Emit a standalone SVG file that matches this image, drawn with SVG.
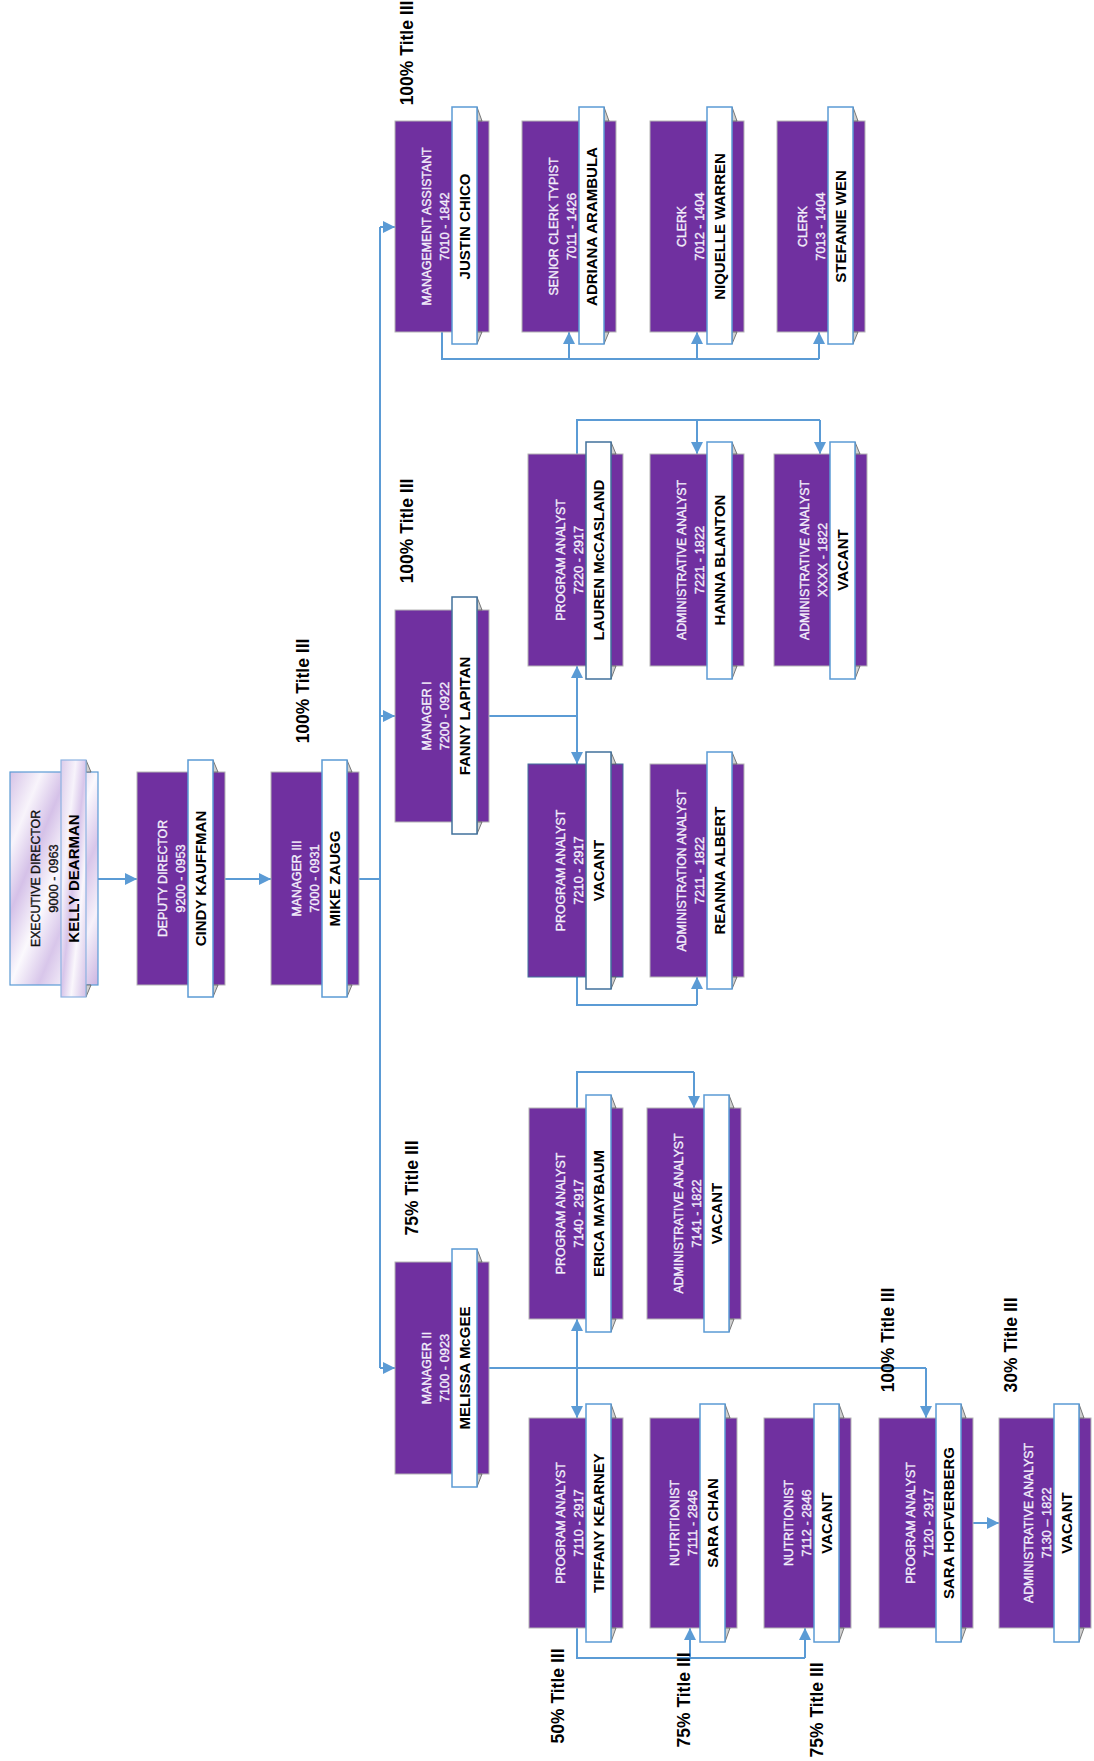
<svg xmlns="http://www.w3.org/2000/svg" width="1094" height="1761" viewBox="0 0 1094 1761">
<style>
.box{fill:#7030a0;stroke:#b4b4b4;stroke-width:1}
.strip{fill:#ffffff;stroke:#5b9bd5;stroke-width:1.5}
.bev{fill:#cfcfcf;stroke:#5a5a5a;stroke-width:0.8}
.t{font-family:"Liberation Sans",Arial,sans-serif;font-size:12.3px;fill:#f3eefb;stroke:#f3eefb;stroke-width:0.35;text-anchor:middle}
.c{font-family:"Liberation Sans",Arial,sans-serif;font-size:12.8px;fill:#f3eefb;stroke:#f3eefb;stroke-width:0.35;text-anchor:middle}
.n{font-family:"Liberation Sans",Arial,sans-serif;font-size:15px;font-weight:bold;fill:#000000;text-anchor:middle}
.dk{fill:#111111;stroke:#111111}
.lbl{font-family:"Liberation Sans",Arial,sans-serif;font-size:17.5px;font-weight:bold;fill:#000000;text-anchor:middle}
.con{fill:none;stroke:#5b9bd5;stroke-width:2}
.arr{fill:none;stroke:#5b9bd5;stroke-width:2;marker-end:url(#ah)}
</style>
<defs>
<marker id="ah" markerUnits="userSpaceOnUse" markerWidth="12" markerHeight="12" refX="12" refY="6" orient="auto">
<path d="M0,0 L12,6 L0,12 z" fill="#5b9bd5"/>
</marker>
<linearGradient id="gExec" x1="0" y1="0" x2="1" y2="1">
<stop offset="0" stop-color="#d6c3e7"/>
<stop offset="0.18" stop-color="#f8f4fb"/>
<stop offset="0.33" stop-color="#d5c1e8"/>
<stop offset="0.5" stop-color="#fbf9fd"/>
<stop offset="0.66" stop-color="#d8c6ea"/>
<stop offset="0.82" stop-color="#f6f1fa"/>
<stop offset="1" stop-color="#cbb4e1"/>
</linearGradient>
<linearGradient id="gStrip" x1="0" y1="0" x2="1" y2="1">
<stop offset="0" stop-color="#dccbea"/>
<stop offset="0.3" stop-color="#f7f3fb"/>
<stop offset="0.5" stop-color="#d8c5ea"/>
<stop offset="0.7" stop-color="#faf7fc"/>
<stop offset="1" stop-color="#d3bfe6"/>
</linearGradient>
</defs>
<rect width="1094" height="1761" fill="#ffffff"/>

<g id="connectors">
<path class="arr" d="M98,879 H137"/>
<path class="arr" d="M225,879 H271"/>
<path class="con" d="M359,879 H380"/>
<path class="con" d="M380,227 V1368"/>
<path class="arr" d="M380,227 H395"/>
<path class="arr" d="M380,716 H395"/>
<path class="arr" d="M380,1368 H395"/>
<path class="con" d="M442,332 V359 H819"/>
<path class="arr" d="M569,359 V332"/>
<path class="arr" d="M697,359 V332"/>
<path class="arr" d="M819,359 V332"/>
<path class="con" d="M489,716 H577"/>
<path class="arr" d="M577,716 V666"/>
<path class="arr" d="M577,716 V764"/>
<path class="con" d="M577,454 V420 H820"/>
<path class="arr" d="M697,420 V454"/>
<path class="arr" d="M820,420 V454"/>
<path class="con" d="M577,977 V1005 H697"/>
<path class="arr" d="M697,1005 V977"/>
<path class="con" d="M577,1108 V1072 H694"/>
<path class="arr" d="M694,1072 V1108"/>
<path class="con" d="M489,1368 H926"/>
<path class="arr" d="M926,1368 V1418"/>
<path class="arr" d="M577,1368 V1319"/>
<path class="arr" d="M577,1368 V1418"/>
<path class="con" d="M577,1628 V1658 H805"/>
<path class="arr" d="M690,1658 V1628"/>
<path class="arr" d="M805,1658 V1628"/>
<path class="arr" d="M973,1523 H999"/>
</g>

<g id="exec">
<rect x="10" y="772" width="88" height="213" fill="url(#gExec)" stroke="#5b9bd5" stroke-width="1.2"/>
<polygon class="bev" points="86,760 91,772 86,772"/>
<polygon class="bev" points="86,985 91,985 86,997"/>
<rect x="61" y="760" width="25" height="237" fill="url(#gStrip)" stroke="#8db3e2" stroke-width="1.2"/>
<text class="t dk" transform="translate(40,878.5) rotate(-90)">EXECUTIVE DIRECTOR</text>
<text class="c dk" transform="translate(58,878.5) rotate(-90)">9000 - 0963</text>
<text class="n" transform="translate(79,878.5) rotate(-90)">KELLY DEARMAN</text>
</g>

<g id="deputy">
<rect class="box" x="137" y="772" width="88" height="213"/>
<polygon class="bev" points="213,760 218,772 213,772"/>
<polygon class="bev" points="213,985 218,985 213,997"/>
<rect class="strip" x="188" y="760" width="25" height="237"/>
<text class="t" transform="translate(167,878.5) rotate(-90)">DEPUTY DIRECTOR</text>
<text class="c" transform="translate(185,878.5) rotate(-90)">9200 - 0953</text>
<text class="n" transform="translate(206,878.5) rotate(-90)">CINDY KAUFFMAN</text>
</g>

<g id="manager3">
<rect class="box" x="271" y="772" width="88" height="213"/>
<polygon class="bev" points="347,760 352,772 347,772"/>
<polygon class="bev" points="347,985 352,985 347,997"/>
<rect class="strip" x="322" y="760" width="25" height="237"/>
<text class="t" transform="translate(301,878.5) rotate(-90)">MANAGER III</text>
<text class="c" transform="translate(319,878.5) rotate(-90)">7000 - 0931</text>
<text class="n" transform="translate(340,878.5) rotate(-90)">MIKE ZAUGG</text>
</g>

<g id="mgmt-assistant">
<rect class="box" x="395" y="121" width="94" height="211"/>
<polygon class="bev" points="477,107 482,121 477,121"/>
<polygon class="bev" points="477,332 482,332 477,344"/>
<rect class="strip" x="452" y="107" width="25" height="237"/>
<text class="t" transform="translate(431,226.5) rotate(-90)">MANAGEMENT ASSISTANT</text>
<text class="c" transform="translate(449,226.5) rotate(-90)">7010 - 1842</text>
<text class="n" transform="translate(470,226.5) rotate(-90)">JUSTIN CHICO</text>
</g>

<g id="senior-clerk">
<rect class="box" x="522" y="121" width="94" height="211"/>
<polygon class="bev" points="604,107 609,121 604,121"/>
<polygon class="bev" points="604,332 609,332 604,344"/>
<rect class="strip" x="579" y="107" width="25" height="237"/>
<text class="t" transform="translate(558,226.5) rotate(-90)">SENIOR CLERK TYPIST</text>
<text class="c" transform="translate(576,226.5) rotate(-90)">7011 - 1426</text>
<text class="n" transform="translate(597,226.5) rotate(-90)">ADRIANA ARAMBULA</text>
</g>

<g id="clerk-7012">
<rect class="box" x="650" y="121" width="94" height="211"/>
<polygon class="bev" points="732,107 737,121 732,121"/>
<polygon class="bev" points="732,332 737,332 732,344"/>
<rect class="strip" x="707" y="107" width="25" height="237"/>
<text class="t" transform="translate(686,226.5) rotate(-90)">CLERK</text>
<text class="c" transform="translate(704,226.5) rotate(-90)">7012 - 1404</text>
<text class="n" transform="translate(725,226.5) rotate(-90)">NIQUELLE WARREN</text>
</g>

<g id="clerk-7013">
<rect class="box" x="777" y="121" width="88" height="211"/>
<polygon class="bev" points="853,107 858,121 853,121"/>
<polygon class="bev" points="853,332 858,332 853,344"/>
<rect class="strip" x="828" y="107" width="25" height="237"/>
<text class="t" transform="translate(807,226.5) rotate(-90)">CLERK</text>
<text class="c" transform="translate(825,226.5) rotate(-90)">7013 - 1404</text>
<text class="n" transform="translate(846,226.5) rotate(-90)">STEFANIE WEN</text>
</g>

<g id="manager1">
<rect class="box" x="395" y="610" width="94" height="212"/>
<polygon class="bev" points="477,597 482,610 477,610"/>
<polygon class="bev" points="477,822 482,822 477,834"/>
<rect class="strip" x="452" y="597" width="25" height="237" style="stroke:#41719c"/>
<text class="t" transform="translate(431,716) rotate(-90)">MANAGER I</text>
<text class="c" transform="translate(449,716) rotate(-90)">7200 - 0922</text>
<text class="n" transform="translate(470,716) rotate(-90)">FANNY LAPITAN</text>
</g>

<g id="pa-7220">
<rect class="box" x="528" y="454" width="95" height="212"/>
<polygon class="bev" points="611,442 616,454 611,454"/>
<polygon class="bev" points="611,666 616,666 611,679"/>
<rect class="strip" x="586" y="442" width="25" height="237" style="stroke:#41719c"/>
<text class="t" transform="translate(565,560) rotate(-90)">PROGRAM ANALYST</text>
<text class="c" transform="translate(583,560) rotate(-90)">7220 - 2917</text>
<text class="n" transform="translate(604,560) rotate(-90)">LAUREN McCASLAND</text>
</g>

<g id="aa-7221">
<rect class="box" x="650" y="454" width="94" height="212"/>
<polygon class="bev" points="732,442 737,454 732,454"/>
<polygon class="bev" points="732,666 737,666 732,679"/>
<rect class="strip" x="707" y="442" width="25" height="237"/>
<text class="t" transform="translate(686,560) rotate(-90)">ADMINISTRATIVE ANALYST</text>
<text class="c" transform="translate(704,560) rotate(-90)">7221 - 1822</text>
<text class="n" transform="translate(725,560) rotate(-90)">HANNA BLANTON</text>
</g>

<g id="aa-xxxx">
<rect class="box" x="774" y="454" width="93" height="212"/>
<polygon class="bev" points="855,442 860,454 855,454"/>
<polygon class="bev" points="855,666 860,666 855,679"/>
<rect class="strip" x="830" y="442" width="25" height="237"/>
<text class="t" transform="translate(809,560) rotate(-90)">ADMINISTRATIVE ANALYST</text>
<text class="c" transform="translate(827,560) rotate(-90)">XXXX - 1822</text>
<text class="n" transform="translate(848,560) rotate(-90)">VACANT</text>
</g>

<g id="pa-7210">
<rect class="box" x="528" y="764" width="95" height="213" style="stroke:#41719c"/>
<polygon class="bev" points="611,752 616,764 611,764"/>
<polygon class="bev" points="611,977 616,977 611,989"/>
<rect class="strip" x="586" y="752" width="25" height="237" style="stroke:#41719c"/>
<text class="t" transform="translate(565,870.5) rotate(-90)">PROGRAM ANALYST</text>
<text class="c" transform="translate(583,870.5) rotate(-90)">7210 - 2917</text>
<text class="n" transform="translate(604,870.5) rotate(-90)">VACANT</text>
</g>

<g id="aa-7211">
<rect class="box" x="650" y="764" width="94" height="213"/>
<polygon class="bev" points="732,752 737,764 732,764"/>
<polygon class="bev" points="732,977 737,977 732,989"/>
<rect class="strip" x="707" y="752" width="25" height="237"/>
<text class="t" transform="translate(686,870.5) rotate(-90)">ADMINISTRATION ANALYST</text>
<text class="c" transform="translate(704,870.5) rotate(-90)">7211 - 1822</text>
<text class="n" transform="translate(725,870.5) rotate(-90)">REANNA ALBERT</text>
</g>

<g id="pa-7140">
<rect class="box" x="529" y="1108" width="94" height="211"/>
<polygon class="bev" points="611,1095 616,1108 611,1108"/>
<polygon class="bev" points="611,1319 616,1319 611,1332"/>
<rect class="strip" x="586" y="1095" width="25" height="237"/>
<text class="t" transform="translate(565,1213.5) rotate(-90)">PROGRAM ANALYST</text>
<text class="c" transform="translate(583,1213.5) rotate(-90)">7140 - 2917</text>
<text class="n" transform="translate(604,1213.5) rotate(-90)">ERICA MAYBAUM</text>
</g>

<g id="aa-7141">
<rect class="box" x="647" y="1108" width="94" height="211"/>
<polygon class="bev" points="729,1095 734,1108 729,1108"/>
<polygon class="bev" points="729,1319 734,1319 729,1332"/>
<rect class="strip" x="704" y="1095" width="25" height="237"/>
<text class="t" transform="translate(683,1213.5) rotate(-90)">ADMINISTRATIVE ANALYST</text>
<text class="c" transform="translate(701,1213.5) rotate(-90)">7141 - 1822</text>
<text class="n" transform="translate(722,1213.5) rotate(-90)">VACANT</text>
</g>

<g id="manager2">
<rect class="box" x="395" y="1262" width="94" height="212"/>
<polygon class="bev" points="477,1249 482,1262 477,1262"/>
<polygon class="bev" points="477,1474 482,1474 477,1487"/>
<rect class="strip" x="452" y="1249" width="25" height="238"/>
<text class="t" transform="translate(431,1368) rotate(-90)">MANAGER II</text>
<text class="c" transform="translate(449,1368) rotate(-90)">7100 - 0923</text>
<text class="n" transform="translate(470,1368) rotate(-90)">MELISSA McGEE</text>
</g>

<g id="pa-7110">
<rect class="box" x="529" y="1418" width="94" height="210"/>
<polygon class="bev" points="611,1404 616,1418 611,1418"/>
<polygon class="bev" points="611,1628 616,1628 611,1642"/>
<rect class="strip" x="586" y="1404" width="25" height="238"/>
<text class="t" transform="translate(565,1523) rotate(-90)">PROGRAM ANALYST</text>
<text class="c" transform="translate(583,1523) rotate(-90)">7110 - 2917</text>
<text class="n" transform="translate(604,1523) rotate(-90)">TIFFANY KEARNEY</text>
</g>

<g id="nutr-7111">
<rect class="box" x="650" y="1418" width="87" height="210"/>
<polygon class="bev" points="725,1404 730,1418 725,1418"/>
<polygon class="bev" points="725,1628 730,1628 725,1642"/>
<rect class="strip" x="700" y="1404" width="25" height="238"/>
<text class="t" transform="translate(679,1523) rotate(-90)">NUTRITIONIST</text>
<text class="c" transform="translate(697,1523) rotate(-90)">7111 - 2846</text>
<text class="n" transform="translate(718,1523) rotate(-90)">SARA CHAN</text>
</g>

<g id="nutr-7112">
<rect class="box" x="764" y="1418" width="87" height="210"/>
<polygon class="bev" points="839,1404 844,1418 839,1418"/>
<polygon class="bev" points="839,1628 844,1628 839,1642"/>
<rect class="strip" x="814" y="1404" width="25" height="238"/>
<text class="t" transform="translate(793,1523) rotate(-90)">NUTRITIONIST</text>
<text class="c" transform="translate(811,1523) rotate(-90)">7112 - 2846</text>
<text class="n" transform="translate(832,1523) rotate(-90)">VACANT</text>
</g>

<g id="pa-7120">
<rect class="box" x="879" y="1418" width="94" height="210"/>
<polygon class="bev" points="961,1404 966,1418 961,1418"/>
<polygon class="bev" points="961,1628 966,1628 961,1642"/>
<rect class="strip" x="936" y="1404" width="25" height="238"/>
<text class="t" transform="translate(915,1523) rotate(-90)">PROGRAM ANALYST</text>
<text class="c" transform="translate(933,1523) rotate(-90)">7120 - 2917</text>
<text class="n" transform="translate(954,1523) rotate(-90)">SARA HOFVERBERG</text>
</g>

<g id="aa-7130">
<rect class="box" x="999" y="1418" width="92" height="210"/>
<polygon class="bev" points="1079,1404 1084,1418 1079,1418"/>
<polygon class="bev" points="1079,1628 1084,1628 1079,1642"/>
<rect class="strip" x="1054" y="1404" width="25" height="238"/>
<text class="t" transform="translate(1033,1523) rotate(-90)">ADMINISTRATIVE ANALYST</text>
<text class="c" transform="translate(1051,1523) rotate(-90)">7130 – 1822</text>
<text class="n" transform="translate(1072,1523) rotate(-90)">VACANT</text>
</g>

<g id="labels">
<text class="lbl" transform="translate(413,53) rotate(-90)">100% Title III</text>
<text class="lbl" transform="translate(413,531) rotate(-90)">100% Title III</text>
<text class="lbl" transform="translate(309,691) rotate(-90)">100% Title III</text>
<text class="lbl" transform="translate(418,1188) rotate(-90)">75% Title III</text>
<text class="lbl" transform="translate(894,1340) rotate(-90)">100% Title III</text>
<text class="lbl" transform="translate(1017,1345) rotate(-90)">30% Title III</text>
<text class="lbl" transform="translate(564,1696) rotate(-90)">50% Title III</text>
<text class="lbl" transform="translate(690,1700) rotate(-90)">75% Title III</text>
<text class="lbl" transform="translate(823,1710) rotate(-90)">75% Title III</text>
</g>
</svg>
